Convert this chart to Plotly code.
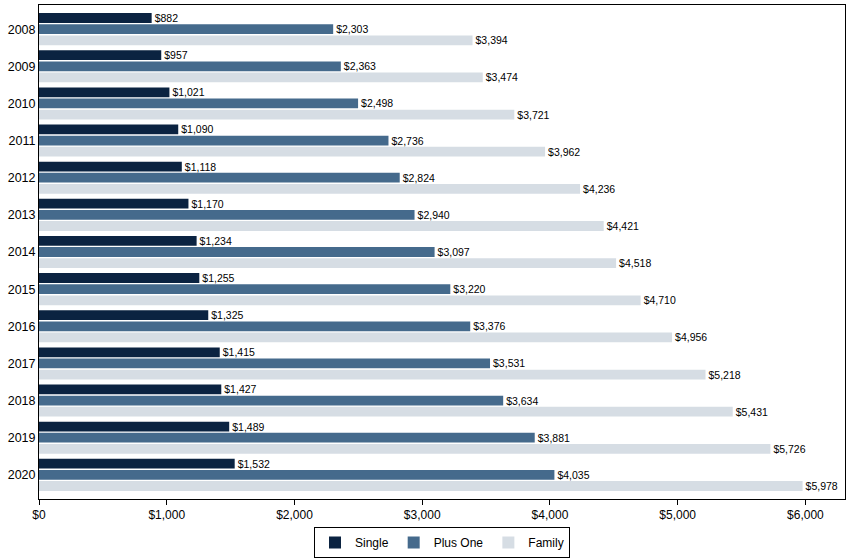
import plotly.graph_objects as go

years = ["2008", "2009", "2010", "2011", "2012", "2013", "2014", "2015", "2016", "2017", "2018", "2019", "2020"]
single = [882, 957, 1021, 1090, 1118, 1170, 1234, 1255, 1325, 1415, 1427, 1489, 1532]
plus_one = [2303, 2363, 2498, 2736, 2824, 2940, 3097, 3220, 3376, 3531, 3634, 3881, 4035]
family = [3394, 3474, 3721, 3962, 4236, 4421, 4518, 4710, 4956, 5218, 5431, 5726, 5978]
tick_vals = [0, 1000, 2000, 3000, 4000, 5000, 6000]
tick_text = ["$0", "$1,000", "$2,000", "$3,000", "$4,000", "$5,000", "$6,000"]

series = [("Single", single, "#0b2341"), ("Plus One", plus_one, "#456a8c"), ("Family", family, "#d6dde4")]

FONT = "Liberation Sans, Arial, sans-serif"

fig = go.Figure()
for name, vals, color in series:
    fig.add_trace(go.Bar(
        y=years, x=vals, name=name, orientation="h",
        marker=dict(color=color, line=dict(width=0)),
        text=["${:,}".format(v) for v in vals],
        textposition="outside", cliponaxis=False, constraintext="none",
        textfont=dict(family=FONT, size=10.5, color="black"),
    ))

fig.update_layout(
    width=848, height=558,
    barmode="group", bargap=0.1, bargroupgap=0.12,
    plot_bgcolor="white", paper_bgcolor="white",
    margin=dict(l=39, r=3, t=5, b=59, autoexpand=False),
    font=dict(family=FONT, size=12, color="black"),
    legend=dict(orientation="h", x=0.5, xanchor="center", yref="container", y=0.0, yanchor="bottom",
                bordercolor="black", borderwidth=1, font=dict(size=12),
                itemwidth=30, tracegroupgap=0),
    xaxis=dict(range=[0, 6310], tickvals=tick_vals, ticktext=tick_text,
               showgrid=False, zeroline=False, showline=True, linecolor="black", linewidth=1,
               mirror=True, ticks="outside", ticklen=5, tickcolor="black", automargin=False,
               tickfont=dict(size=12)),
    yaxis=dict(categoryorder="array", categoryarray=years, autorange=False,
               range=[12.65, -0.65], showgrid=False, zeroline=False, showline=True,
               linecolor="black", linewidth=1, mirror=True, ticks="", ticklen=0,
               automargin=False, tickfont=dict(size=12.5)),
)

fig.write_html("out.html", config={"displayModeBar": False},
               post_script="document.body.style.margin='0px';")
